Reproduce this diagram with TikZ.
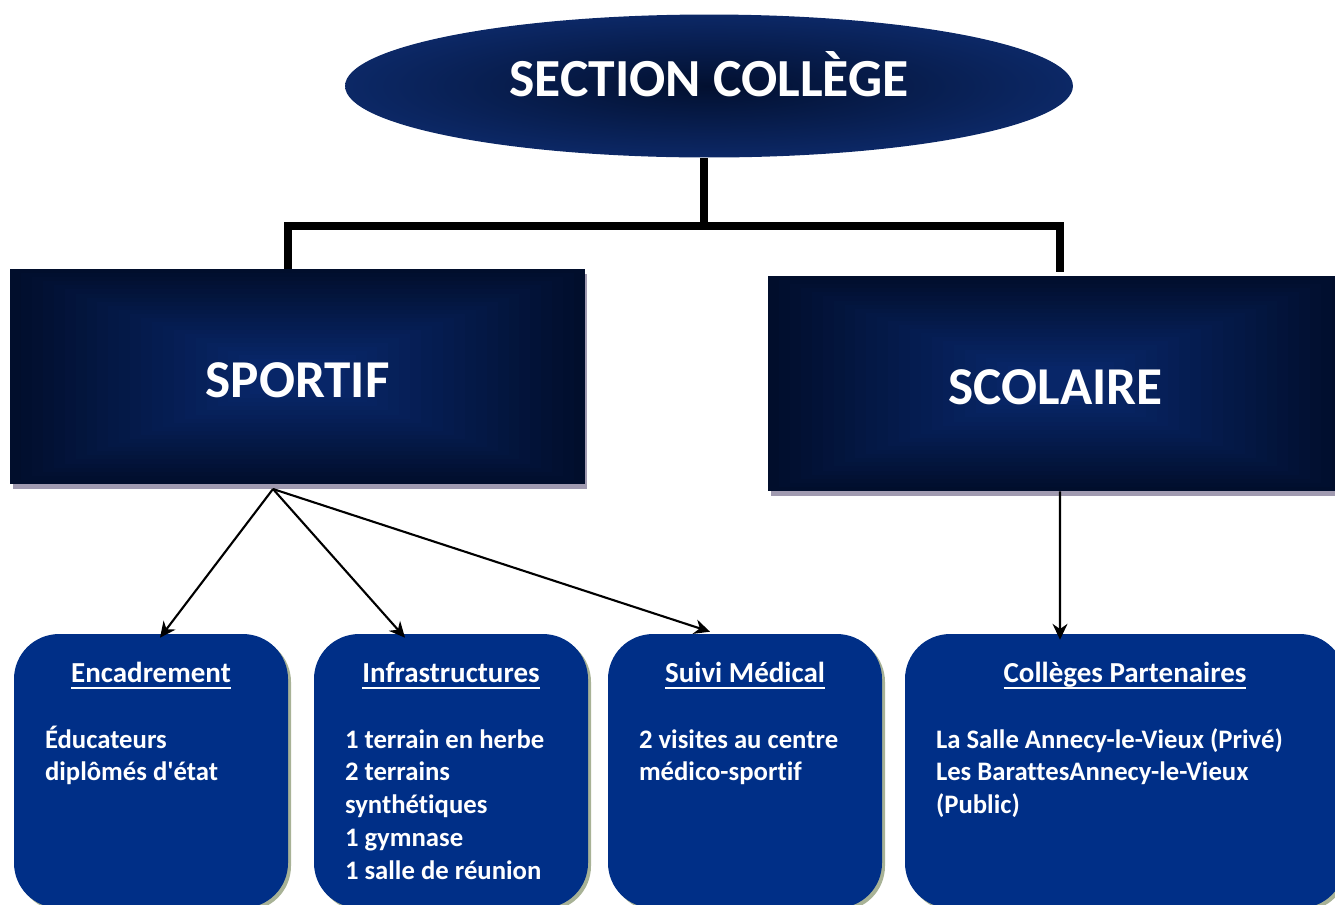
\documentclass[tikz,border=0pt]{standalone}
\usepackage{fontspec}
\setmainfont{Carlito}[Ligatures={TeX,NoCommon}]
\usetikzlibrary{shapes.geometric,shadows,arrows.meta,calc}

\definecolor{navy}{RGB}{0,47,135}
\definecolor{rectdark}{RGB}{1,14,44}
\definecolor{rectlight}{RGB}{8,38,104}
\definecolor{ovaldark}{RGB}{2,16,48}
\definecolor{ovallight}{RGB}{12,40,102}
\definecolor{rectshadow}{RGB}{160,154,176}
\definecolor{boxshadow}{RGB}{168,178,150}

% underlined heading, rule at fixed depth
\newcommand\ulhead[1]{\setbox0\hbox{#1}\rlap{\rule[-3.6pt]{\wd0}{1.2pt}}\box0}

\begin{document}
\begin{tikzpicture} [
            x=0.02cm, y=-0.02cm,
            oval/.style={ellipse,inner sep=0pt,minimum width=14.56cm,minimum height=2.86cm,
                inner color=ovaldark,outer color=ovallight,text=white,
                text height=12pt,text depth=0pt,
                font=\fontsize{30.5}{36}\selectfont\bfseries},
            section box/.style={rectangle,inner sep=0pt,minimum width=11.5cm,minimum height=4.3cm,
                text=white,text height=24pt,text depth=0pt,
                font=\fontsize{30.3}{36}\selectfont\bfseries,
                drop shadow={shadow xshift=0.05cm,shadow yshift=-0.1cm,fill=rectshadow,opacity=1},
                path picture={
                    \foreach \k in {0,...,22} {
                        \pgfmathsetmacro\mix{100*\k/22}
                        \fill[rectlight!\mix!rectdark]
                            ($(path picture bounding box.south west)!{0.019*\k}!(path picture bounding box.north east)$)
                            rectangle
                            ($(path picture bounding box.south west)!{1-0.019*\k}!(path picture bounding box.north east)$);
                    }}},
            sub box/.style={rectangle,rounded corners=0.9cm,fill=navy,minimum height=5.48cm,
                drop shadow={shadow xshift=0.06cm,shadow yshift=-0.06cm,fill=boxshadow,opacity=1}},
            head text/.style={text=white,inner sep=0pt,anchor=base,
                font=\fontsize{16.5}{18.7}\selectfont\bfseries},
            body text/.style={text=white,inner sep=0pt,anchor=north west,align=left,
                font=\fontsize{15.2}{18.7}\selectfont\bfseries},
            trunk/.style = {draw,line width=4.3pt},
            link/.style = {draw,line width=1.2pt,-{Stealth[length=9pt,width=8.5pt]}},
        ]
        \useasboundingbox (0,0) rectangle (1335,904);
        % First the top of the tree
        \node[oval] (top) at (709,86) {SECTION COLLÈGE};
        \node[section box] (sport) at (297.5,376.5) {SPORTIF};
        \node[section box] (scol) at (1055.5,383.5) {SCOLAIRE};
        % Then the four boxes at the bottom
        \foreach \pos/\w/\name/\head/\txt in {
                {(151,771)/274/enc/Encadrement/{Éducateurs\\diplômés d\textquotesingle état}},
                {(451,771)/274/infra/Infrastructures/{1 terrain en herbe\\2 terrains\\synthétiques\\1 gymnase\\1 salle de réunion}},
                {(745,771)/274/med/Suivi Médical/{2 visites au centre\\médico-sportif}},
                {(1125,771)/440/col/Collèges Partenaires/{La Salle Annecy-le-Vieux (Privé)\\Les BarattesAnnecy-le-Vieux\\(Public)}}} {
            \node[sub box,minimum width=\w*0.02cm] (\name) at \pos {};
            \node[head text] (\name-head) at ([shift={(0,49)}]\name.north) {\ulhead{\head}};
            \node[body text] (\name-body) at ([shift={(31,91)}]\name.north west) {\strut\txt};
        }
        % Connect with the thick lines
        \coordinate (bar) at (704,226);
        \path[trunk] ([shift={(-5,0)}]top.south) -- ([shift={(-5,0)}]top.south |- bar);
        \path[trunk] ([shift={(-9.5,0)}]sport.north) |- (bar) -| ([shift={(4.5,-4)}]scol.north);
        % and the arrows
        \coordinate (fork) at (273,489);
        \foreach \dest/\dx/\dy in {enc/9/4,infra/-46/4,med/-35/-2}
            \path[link] (fork) -- ([shift={(\dx,\dy)}]\dest.north);
        \path[link] ([shift={(4.5,0)}]scol.south) -- ([shift={(-65,6)}]col.north);
    \end{tikzpicture}
\end{document}
